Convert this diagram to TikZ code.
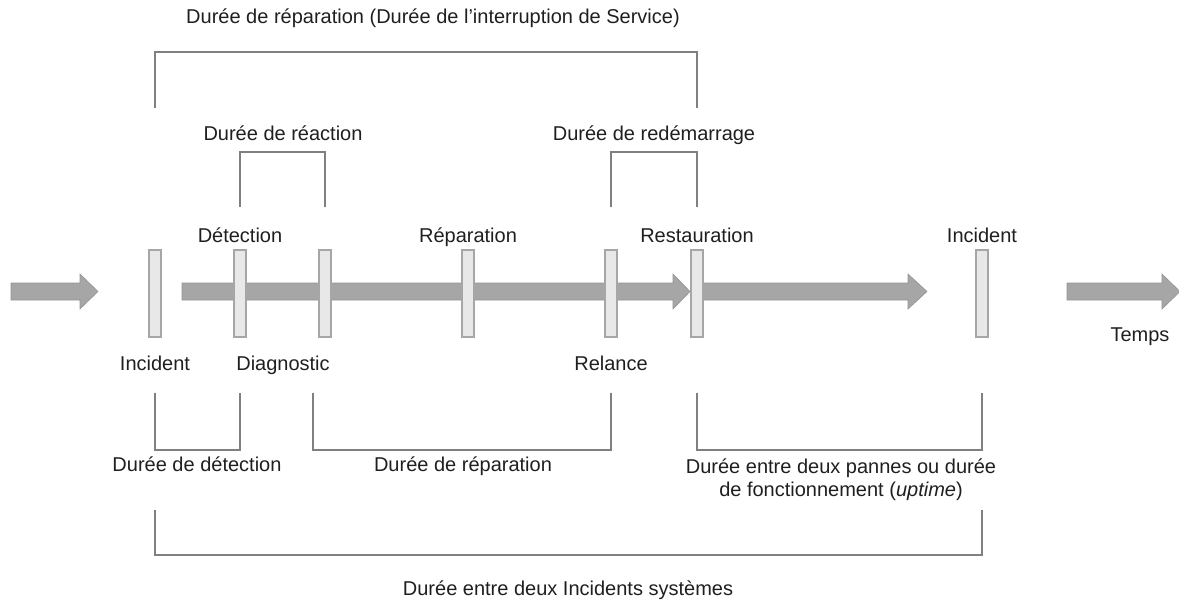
\documentclass[tikz,border=0pt]{standalone}
\usepackage{fontspec}
\setmainfont{Liberation Sans}
\begin{document}
\begin{tikzpicture}[x=1pt,y=-1pt,
  lbl/.style={font=\fontsize{20}{24}\selectfont, text=black!88, inner sep=0pt, text height=14.5pt, text depth=4pt},
  tick/.style={draw=black!35, fill=black!9, line width=1.2pt, minimum width=12pt, minimum height=87pt, inner sep=0pt},
  brk/.style={draw=black!50, line width=2pt},
  flow/.style={fill=black!35, draw=black!42, line width=0.6pt}]

\useasboundingbox (0,0) rectangle (1179,606);

% time arrows: shaft start, head start, tip
\newcommand\timearrow[3]{%
  \draw[flow] (#1,283) -- (#2,283) -- (#2,274) -- (#3,291.5) -- (#2,309) -- (#2,300) -- (#1,300) -- cycle;}
\timearrow{11}{80}{98}
\timearrow{182}{673}{690}
\timearrow{702}{908}{927}
\timearrow{1067}{1162}{1180}

% event markers
\node[tick] (t1) at (155,293.5) {};
\node[tick] (t2) at (240,293.5) {};
\node[tick] (t3) at (325,293.5) {};
\node[tick] (t4) at (468,293.5) {};
\node[tick] (t5) at (611,293.5) {};
\node[tick] (t6) at (697,293.5) {};
\node[tick] (t7) at (982,293.5) {};

% event labels
\node[lbl] (lincA) at (155,365) {Incident};
\node[lbl] (ldet) at (240,237) {Détection};
\node[lbl] (ldiag) at (283,365) {Diagnostic};
\node[lbl] (lrep) at (468,237) {Réparation};
\node[lbl] (lrel) at (611,365) {Relance};
\node[lbl] (lres) at (697,237) {Restauration};
\node[lbl] (lincB) at (982,237) {Incident};
\node[lbl] (ltemps) at (1140,336) {Temps};

% upper brackets
\draw[brk] (t1.center |- 0,108) -- (t1.center |- 0,52) -- (t6.center |- 0,52) -- (t6.center |- 0,108);
\node[lbl] (dint) at (433,18) {Durée de réparation (Durée de l’interruption de Service)};
\draw[brk] (t2.center |- 0,207) -- (t2.center |- 0,152) -- (t3.center |- 0,152) -- (t3.center |- 0,207);
\node[lbl] (dreac) at (283,135) {Durée de réaction};
\draw[brk] (t5.center |- 0,207) -- (t5.center |- 0,152) -- (t6.center |- 0,152) -- (t6.center |- 0,207);
\node[lbl] (dredem) at (654,135) {Durée de redémarrage};

% lower brackets
\draw[brk] (t1.center |- 0,393) -- (t1.center |- 0,450) -- (t2.center |- 0,450) -- (t2.center |- 0,393);
\node[lbl] (ddet) at (197,466) {Durée de détection};
\coordinate (rs) at (313,393);
\draw[brk] (rs) -- (rs |- 0,450) -- (t5.center |- 0,450) -- (t5.center |- 0,393);
\node[lbl] (drep) at (463,466) {Durée de réparation};
\draw[brk] (t6.center |- 0,393) -- (t6.center |- 0,450) -- (t7.center |- 0,450) -- (t7.center |- 0,393);
\node[lbl, align=center, text height=, text depth=, font=\fontsize{20}{23}\selectfont] (dup) at (841,479.5) {Durée entre deux pannes ou durée\\de fonctionnement (\textit{uptime})};
\draw[brk] (t1.center |- 0,510) -- (t1.center |- 0,555) -- (t7.center |- 0,555) -- (t7.center |- 0,510);
\node[lbl] (dsys) at (568,590) {Durée entre deux Incidents systèmes};

\end{tikzpicture}
\end{document}
